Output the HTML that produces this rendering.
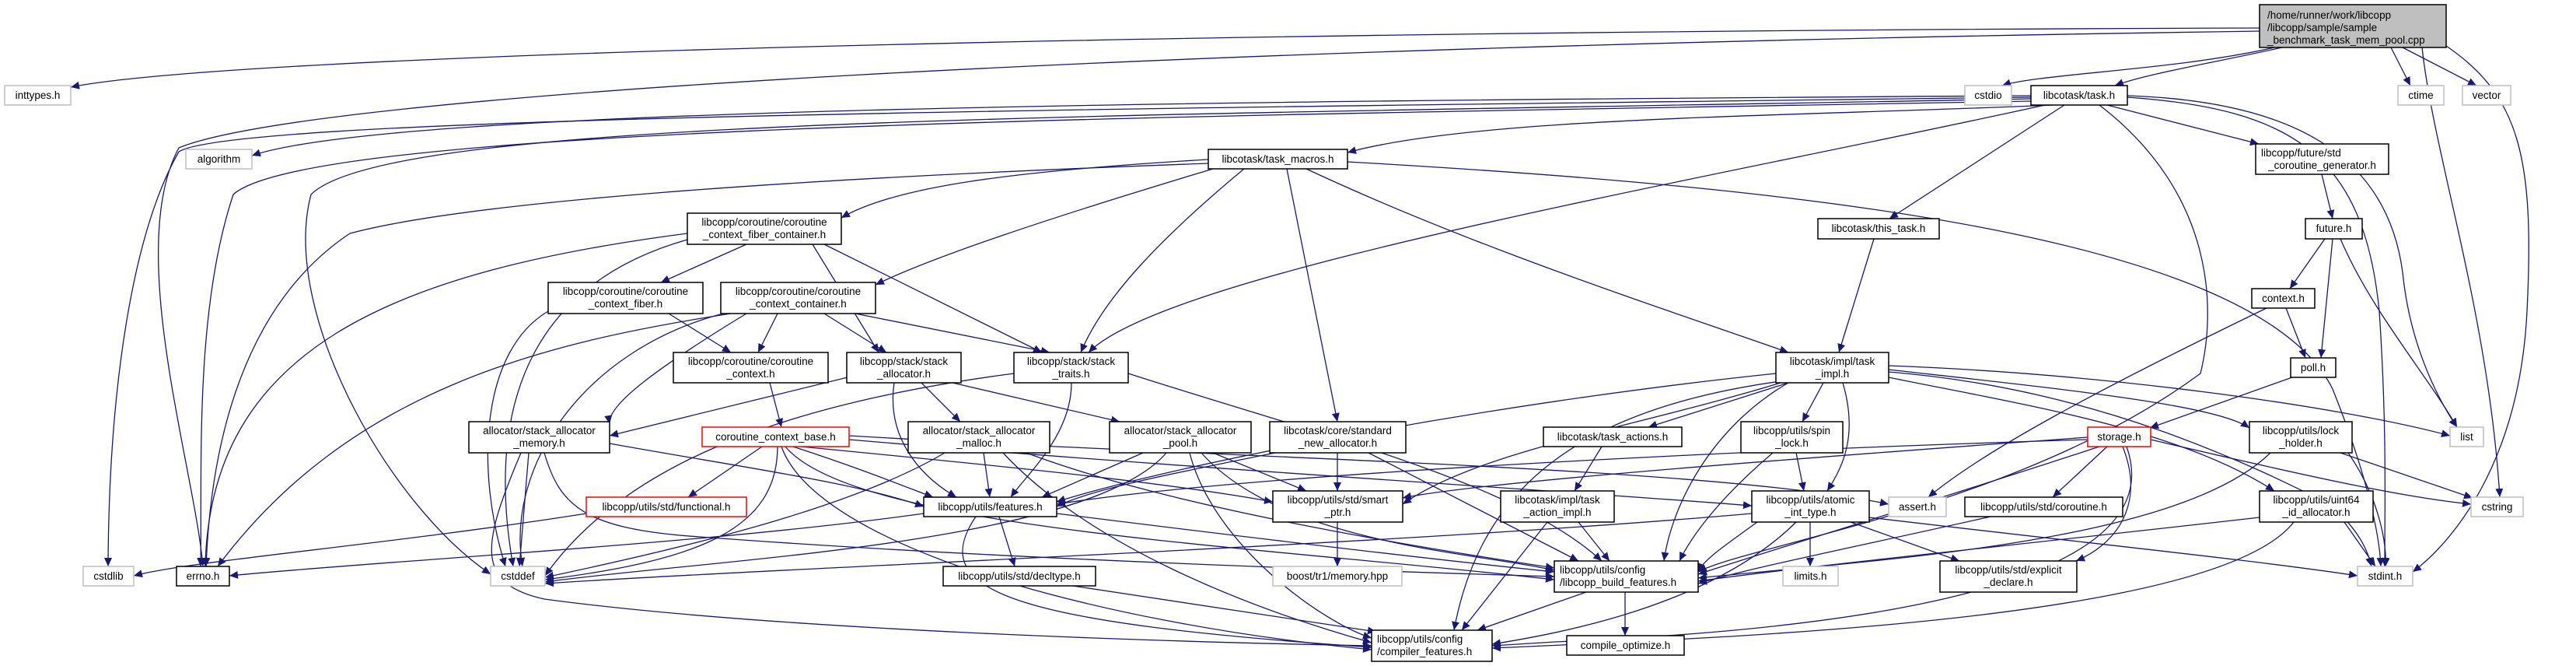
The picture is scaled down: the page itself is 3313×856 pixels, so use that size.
<!DOCTYPE html>
<html><head><meta charset="utf-8">
<style>
html,body{margin:0;padding:0;background:#fff;}
svg{display:block;}
text{font-family:"Liberation Sans",sans-serif;font-size:13.5px;fill:#000;}
#edges path{fill:none;stroke:#191970;stroke-width:1.3;marker-end:url(#ah);}
</style></head>
<body>
<svg width="3313" height="856" viewBox="0 0 3313 856" xmlns="http://www.w3.org/2000/svg">
<defs>
<marker id="ah" markerUnits="userSpaceOnUse" markerWidth="12" markerHeight="10" refX="11" refY="5" orient="auto">
<path d="M0,0 L11,5 L0,10 z" fill="#191970"/>
</marker>
</defs>
<g id="edges">
<path d="M2906,36 C1500,40 300,70 91,112"/>
<path d="M2906,40 C1500,60 400,120 230,190 C160,320 250,600 261,728"/>
<path d="M2925,61 C2800,90 2620,95 2575,110"/>
<path d="M2935,61 C2850,80 2760,95 2720,110"/>
<path d="M3075,61 L3100,110"/>
<path d="M3090,61 L3185,110"/>
<path d="M3115,61 C3130,200 3200,400 3215,639"/>
<path d="M3140,55 C3240,120 3260,200 3250,400 C3240,600 3150,700 3103,735"/>
<path d="M2612,123 C1500,130 500,140 324,200"/>
<path d="M2612,125 C1400,140 300,150 230,195 C170,300 140,500 139,728"/>
<path d="M2612,127 C1400,150 500,150 400,250 C360,400 500,650 631,738"/>
<path d="M2640,135 C2300,150 1900,150 1733,196"/>
<path d="M2630,135 C2200,230 1500,350 1400,453"/>
<path d="M2655,135 L2430,281"/>
<path d="M2710,135 L2905,185"/>
<path d="M2736,123 C2950,130 3070,200 3090,350 C3100,450 3140,520 3160,549"/>
<path d="M2736,125 C2950,140 3040,200 3060,400 C3070,550 3067,650 3067,728"/>
<path d="M2700,135 C2850,250 2850,400 2830,480 C2600,650 2250,700 2184,735"/>
<path d="M2612,130 C1500,150 400,160 300,250 C250,400 260,600 258,728"/>
<path d="M1554,205 C1300,220 1150,240 1082,280"/>
<path d="M1560,217 C1350,280 1200,330 1126,366"/>
<path d="M1600,217 C1500,300 1420,380 1390,453"/>
<path d="M1655,217 L1720,542"/>
<path d="M1680,217 C1900,320 2150,400 2300,453"/>
<path d="M1554,210 C1000,230 600,260 450,300 C300,400 270,600 265,728"/>
<path d="M1733,208 C2300,240 2900,300 3000,500 C3040,600 3060,680 3062,728"/>
<path d="M960,314 L850,363"/>
<path d="M1045,314 L1130,453"/>
<path d="M1060,314 L1340,453"/>
<path d="M884,300 C500,350 270,450 264,728"/>
<path d="M884,308 C700,360 620,500 660,728"/>
<path d="M860,403 L940,453"/>
<path d="M705,400 C620,450 610,600 650,728"/>
<path d="M1000,403 L975,453"/>
<path d="M1060,403 L1140,453"/>
<path d="M1100,403 L1350,453"/>
<path d="M930,403 C750,450 650,600 672,728"/>
<path d="M940,403 C700,440 450,500 280,728"/>
<path d="M960,403 C850,470 780,520 784,545"/>
<path d="M990,492 L1005,549"/>
<path d="M1090,485 L784,560"/>
<path d="M1185,492 L1235,542"/>
<path d="M1225,492 L1440,542"/>
<path d="M1150,492 C1140,560 1180,610 1230,639"/>
<path d="M1378,492 C1378,560 1320,610 1300,639"/>
<path d="M1304,480 C1000,520 800,600 701,740"/>
<path d="M1451,480 C1700,560 1950,620 2060,721"/>
<path d="M784,570 C950,600 1100,620 1188,651"/>
<path d="M680,582 L668,728"/>
<path d="M700,582 C720,650 750,680 900,690 C1300,720 1800,735 1999,741"/>
<path d="M670,582 C620,700 610,750 700,770 C1000,810 1500,825 1764,830"/>
<path d="M980,574 L885,639"/>
<path d="M1020,574 C1100,600 1150,620 1200,639"/>
<path d="M1030,574 C1300,600 1500,620 1637,645"/>
<path d="M1000,574 C1000,680 900,720 701,745"/>
<path d="M1010,574 C1100,680 1600,700 1999,745"/>
<path d="M1005,574 C1050,700 1400,800 1764,835"/>
<path d="M1092,560 C1600,590 2200,600 2429,648"/>
<path d="M1092,565 C1500,600 2000,630 2253,650"/>
<path d="M754,660 C500,700 250,720 172,740"/>
<path d="M1265,582 L1273,639"/>
<path d="M1215,582 C1100,650 900,700 701,742"/>
<path d="M1290,582 C1400,700 1600,780 1764,826"/>
<path d="M1320,582 C1500,650 1800,700 1999,730"/>
<path d="M1470,582 L1340,639"/>
<path d="M1560,582 L1680,631"/>
<path d="M1500,582 C1400,700 900,720 701,748"/>
<path d="M1530,582 C1560,700 1700,800 1764,820"/>
<path d="M1545,582 C1650,700 1900,710 1999,733"/>
<path d="M1640,582 C1500,610 1400,630 1359,651"/>
<path d="M1720,582 L1720,631"/>
<path d="M1760,582 L2030,721"/>
<path d="M1285,664 L1305,728"/>
<path d="M1255,664 C1190,760 1300,800 1764,832"/>
<path d="M1359,660 C1600,690 1850,720 1999,735"/>
<path d="M1188,660 C900,700 500,720 295,740"/>
<path d="M1720,671 L1720,728"/>
<path d="M1380,753 L1770,812"/>
<path d="M2410,307 L2365,453"/>
<path d="M2300,492 L2120,549"/>
<path d="M2345,492 L2318,542"/>
<path d="M2370,492 C2390,560 2370,600 2350,631"/>
<path d="M2429,475 C2650,500 2850,520 2893,550"/>
<path d="M2429,485 C2600,520 2800,550 2925,631"/>
<path d="M2290,492 C2100,550 1900,580 1804,648"/>
<path d="M2284,480 C1900,520 1500,600 1359,645"/>
<path d="M2300,492 C2200,550 2150,650 2140,721"/>
<path d="M2290,490 C2000,530 1900,650 1870,810"/>
<path d="M2429,470 C2700,480 3000,520 3151,560"/>
<path d="M2429,478 C2700,500 2900,600 3000,650 C3040,690 3045,710 3050,728"/>
<path d="M2060,574 L2025,631"/>
<path d="M1990,671 L1880,810"/>
<path d="M2030,671 L2070,721"/>
<path d="M2040,761 L1900,810"/>
<path d="M2090,761 L2090,817"/>
<path d="M2310,582 L2320,631"/>
<path d="M2280,582 C2200,650 2170,700 2160,721"/>
<path d="M2253,660 C1800,700 1000,730 701,750"/>
<path d="M2328,671 L2328,728"/>
<path d="M2380,671 L2520,721"/>
<path d="M2404,665 C2700,700 2900,720 3032,740"/>
<path d="M2260,671 C2220,700 2190,720 2184,735"/>
<path d="M2310,671 C2200,780 2000,815 1919,828"/>
<path d="M2986,224 L3000,281"/>
<path d="M2990,307 L2945,371"/>
<path d="M3000,307 L2985,460"/>
<path d="M3010,307 C3050,400 3120,480 3160,549"/>
<path d="M2940,396 L2965,460"/>
<path d="M2915,396 C2700,500 2550,580 2480,639"/>
<path d="M2948,485 L2765,550"/>
<path d="M2685,565 C2200,580 1600,610 1359,648"/>
<path d="M2685,562 C2300,590 1900,620 1804,640"/>
<path d="M2710,574 L2640,639"/>
<path d="M2730,574 C2760,650 2720,700 2670,721"/>
<path d="M2735,574 C2780,700 2600,800 2000,825 L1919,830"/>
<path d="M2766,565 C3000,620 3100,640 3178,648"/>
<path d="M2700,574 C2500,640 2300,700 2184,738"/>
<path d="M2920,582 C2800,700 2400,720 2184,743"/>
<path d="M3010,582 L3180,640"/>
<path d="M3020,582 C3060,640 3070,700 3068,728"/>
<path d="M2906,665 C2600,700 2300,730 2184,747"/>
<path d="M2950,671 C2850,800 2200,820 1919,833"/>
<path d="M3015,671 L3055,728"/>
<path d="M2560,664 C2400,700 2250,730 2184,750"/>
</g>
<g id="nodes">
<rect x="2906" y="6" width="240" height="55" fill="#bfbfbf" stroke="#000" stroke-width="1.5"/>
<text x="2916" y="24">/home/runner/work/libcopp</text>
<text x="2916" y="40">/libcopp/sample/sample</text>
<text x="2916" y="56">_benchmark_task_mem_pool.cpp</text>

<rect x="6" y="110" width="85" height="25" fill="#fff" stroke="#bfbfbf" stroke-width="1.5"/><text x="48.5" y="127" text-anchor="middle">inttypes.h</text>
<rect x="239" y="192" width="85" height="25" fill="#fff" stroke="#bfbfbf" stroke-width="1.5"/><text x="281.5" y="209" text-anchor="middle">algorithm</text>
<rect x="2527" y="110" width="60" height="25" fill="#fff" stroke="#bfbfbf" stroke-width="1.5"/><text x="2557" y="127" text-anchor="middle">cstdio</text>
<rect x="2612" y="110" width="124" height="25" fill="#fff" stroke="#000" stroke-width="1.5"/><text x="2674" y="127" text-anchor="middle">libcotask/task.h</text>
<rect x="3084" y="110" width="59" height="25" fill="#fff" stroke="#bfbfbf" stroke-width="1.5"/><text x="3113.5" y="127" text-anchor="middle">ctime</text>
<rect x="3167" y="110" width="62" height="25" fill="#fff" stroke="#bfbfbf" stroke-width="1.5"/><text x="3198" y="127" text-anchor="middle">vector</text>

<rect x="1554" y="192" width="179" height="25" fill="#fff" stroke="#000" stroke-width="1.5"/><text x="1643.5" y="209" text-anchor="middle">libcotask/task_macros.h</text>
<rect x="2901" y="185" width="171" height="39" fill="#fff" stroke="#000" stroke-width="1.5"/><text x="2908" y="201">libcopp/future/std</text><text x="2986.5" y="217" text-anchor="middle">_coroutine_generator.h</text>

<rect x="884" y="274" width="198" height="40" fill="#fff" stroke="#000" stroke-width="1.5"/><text x="983" y="290" text-anchor="middle">libcopp/coroutine/coroutine</text><text x="983" y="306" text-anchor="middle">_context_fiber_container.h</text>
<rect x="2338" y="281" width="156" height="26" fill="#fff" stroke="#000" stroke-width="1.5"/><text x="2416" y="298" text-anchor="middle">libcotask/this_task.h</text>
<rect x="2965" y="281" width="73" height="26" fill="#fff" stroke="#000" stroke-width="1.5"/><text x="3001.5" y="298" text-anchor="middle">future.h</text>

<rect x="705" y="363" width="199" height="40" fill="#fff" stroke="#000" stroke-width="1.5"/><text x="804.5" y="379" text-anchor="middle">libcopp/coroutine/coroutine</text><text x="804.5" y="395" text-anchor="middle">_context_fiber.h</text>
<rect x="927" y="363" width="199" height="40" fill="#fff" stroke="#000" stroke-width="1.5"/><text x="1026.5" y="379" text-anchor="middle">libcopp/coroutine/coroutine</text><text x="1026.5" y="395" text-anchor="middle">_context_container.h</text>
<rect x="2896" y="371" width="81" height="25" fill="#fff" stroke="#000" stroke-width="1.5"/><text x="2936.5" y="388" text-anchor="middle">context.h</text>

<rect x="866" y="453" width="199" height="39" fill="#fff" stroke="#000" stroke-width="1.5"/><text x="965.5" y="469" text-anchor="middle">libcopp/coroutine/coroutine</text><text x="965.5" y="485" text-anchor="middle">_context.h</text>
<rect x="1089" y="453" width="147" height="39" fill="#fff" stroke="#000" stroke-width="1.5"/><text x="1162.5" y="469" text-anchor="middle">libcopp/stack/stack</text><text x="1162.5" y="485" text-anchor="middle">_allocator.h</text>
<rect x="1304" y="453" width="147" height="39" fill="#fff" stroke="#000" stroke-width="1.5"/><text x="1377.5" y="469" text-anchor="middle">libcopp/stack/stack</text><text x="1377.5" y="485" text-anchor="middle">_traits.h</text>
<rect x="2284" y="453" width="145" height="39" fill="#fff" stroke="#000" stroke-width="1.5"/><text x="2356.5" y="469" text-anchor="middle">libcotask/impl/task</text><text x="2356.5" y="485" text-anchor="middle">_impl.h</text>
<rect x="2946" y="460" width="58" height="25" fill="#fff" stroke="#000" stroke-width="1.5"/><text x="2975" y="477" text-anchor="middle">poll.h</text>

<rect x="603" y="542" width="181" height="40" fill="#fff" stroke="#000" stroke-width="1.5"/><text x="693.5" y="558" text-anchor="middle">allocator/stack_allocator</text><text x="693.5" y="574" text-anchor="middle">_memory.h</text>
<rect x="903" y="549" width="189" height="25" fill="#fff" stroke="#ff0000" stroke-width="1.5"/><text x="997.5" y="566" text-anchor="middle">coroutine_context_base.h</text>
<rect x="1168" y="542" width="182" height="40" fill="#fff" stroke="#000" stroke-width="1.5"/><text x="1259" y="558" text-anchor="middle">allocator/stack_allocator</text><text x="1259" y="574" text-anchor="middle">_malloc.h</text>
<rect x="1427" y="542" width="182" height="40" fill="#fff" stroke="#000" stroke-width="1.5"/><text x="1518" y="558" text-anchor="middle">allocator/stack_allocator</text><text x="1518" y="574" text-anchor="middle">_pool.h</text>
<rect x="1633" y="542" width="175" height="40" fill="#fff" stroke="#000" stroke-width="1.5"/><text x="1720.5" y="558" text-anchor="middle">libcotask/core/standard</text><text x="1720.5" y="574" text-anchor="middle">_new_allocator.h</text>
<rect x="1985" y="549" width="178" height="25" fill="#fff" stroke="#000" stroke-width="1.5"/><text x="2074" y="566" text-anchor="middle">libcotask/task_actions.h</text>
<rect x="2239" y="542" width="131" height="40" fill="#fff" stroke="#000" stroke-width="1.5"/><text x="2304.5" y="558" text-anchor="middle">libcopp/utils/spin</text><text x="2304.5" y="574" text-anchor="middle">_lock.h</text>
<rect x="2685" y="549" width="81" height="25" fill="#fff" stroke="#ff0000" stroke-width="1.5"/><text x="2725.5" y="566" text-anchor="middle">storage.h</text>
<rect x="2893" y="542" width="132" height="40" fill="#fff" stroke="#000" stroke-width="1.5"/><text x="2959" y="558" text-anchor="middle">libcopp/utils/lock</text><text x="2959" y="574" text-anchor="middle">_holder.h</text>
<rect x="3151" y="549" width="43" height="25" fill="#fff" stroke="#bfbfbf" stroke-width="1.5"/><text x="3172.5" y="566" text-anchor="middle">list</text>

<rect x="754" y="639" width="206" height="25" fill="#fff" stroke="#ff0000" stroke-width="1.5"/><text x="857" y="656" text-anchor="middle">libcopp/utils/std/functional.h</text>
<rect x="1188" y="639" width="171" height="25" fill="#fff" stroke="#000" stroke-width="1.5"/><text x="1273.5" y="656" text-anchor="middle">libcopp/utils/features.h</text>
<rect x="1637" y="631" width="167" height="40" fill="#fff" stroke="#000" stroke-width="1.5"/><text x="1720.5" y="647" text-anchor="middle">libcopp/utils/std/smart</text><text x="1720.5" y="663" text-anchor="middle">_ptr.h</text>
<rect x="1930" y="631" width="146" height="40" fill="#fff" stroke="#000" stroke-width="1.5"/><text x="2003" y="647" text-anchor="middle">libcotask/impl/task</text><text x="2003" y="663" text-anchor="middle">_action_impl.h</text>
<rect x="2253" y="631" width="151" height="40" fill="#fff" stroke="#000" stroke-width="1.5"/><text x="2328.5" y="647" text-anchor="middle">libcopp/utils/atomic</text><text x="2328.5" y="663" text-anchor="middle">_int_type.h</text>
<rect x="2429" y="639" width="74" height="25" fill="#fff" stroke="#bfbfbf" stroke-width="1.5"/><text x="2466" y="656" text-anchor="middle">assert.h</text>
<rect x="2527" y="639" width="203" height="25" fill="#fff" stroke="#000" stroke-width="1.5"/><text x="2628.5" y="656" text-anchor="middle">libcopp/utils/std/coroutine.h</text>
<rect x="2906" y="631" width="146" height="40" fill="#fff" stroke="#000" stroke-width="1.5"/><text x="2979" y="647" text-anchor="middle">libcopp/utils/uint64</text><text x="2979" y="663" text-anchor="middle">_id_allocator.h</text>
<rect x="3178" y="639" width="67" height="25" fill="#fff" stroke="#bfbfbf" stroke-width="1.5"/><text x="3211.5" y="656" text-anchor="middle">cstring</text>

<rect x="107" y="728" width="65" height="25" fill="#fff" stroke="#bfbfbf" stroke-width="1.5"/><text x="139.5" y="745" text-anchor="middle">cstdlib</text>
<rect x="227" y="728" width="68" height="25" fill="#fff" stroke="#000" stroke-width="1.5"/><text x="261" y="745" text-anchor="middle">errno.h</text>
<rect x="631" y="728" width="70" height="25" fill="#fff" stroke="#bfbfbf" stroke-width="1.5"/><text x="666" y="745" text-anchor="middle">cstddef</text>
<rect x="1213" y="728" width="196" height="25" fill="#fff" stroke="#000" stroke-width="1.5"/><text x="1311" y="745" text-anchor="middle">libcopp/utils/std/decltype.h</text>
<rect x="1637" y="728" width="166" height="25" fill="#fff" stroke="#bfbfbf" stroke-width="1.5"/><text x="1720" y="745" text-anchor="middle">boost/tr1/memory.hpp</text>
<rect x="1999" y="721" width="185" height="40" fill="#fff" stroke="#000" stroke-width="1.5"/><text x="2006" y="737">libcopp/utils/config</text><text x="2006" y="753">/libcopp_build_features.h</text>
<rect x="2293" y="728" width="71" height="25" fill="#fff" stroke="#bfbfbf" stroke-width="1.5"/><text x="2328.5" y="745" text-anchor="middle">limits.h</text>
<rect x="2495" y="721" width="176" height="40" fill="#fff" stroke="#000" stroke-width="1.5"/><text x="2583" y="737" text-anchor="middle">libcopp/utils/std/explicit</text><text x="2583" y="753" text-anchor="middle">_declare.h</text>
<rect x="3032" y="728" width="71" height="25" fill="#fff" stroke="#bfbfbf" stroke-width="1.5"/><text x="3067.5" y="745" text-anchor="middle">stdint.h</text>

<rect x="1764" y="810" width="155" height="40" fill="#fff" stroke="#000" stroke-width="1.5"/><text x="1771" y="826">libcopp/utils/config</text><text x="1771" y="842">/compiler_features.h</text>
<rect x="2015" y="817" width="151" height="25" fill="#fff" stroke="#000" stroke-width="1.5"/><text x="2090.5" y="834" text-anchor="middle">compile_optimize.h</text>
</g>
</svg>
</body></html>
